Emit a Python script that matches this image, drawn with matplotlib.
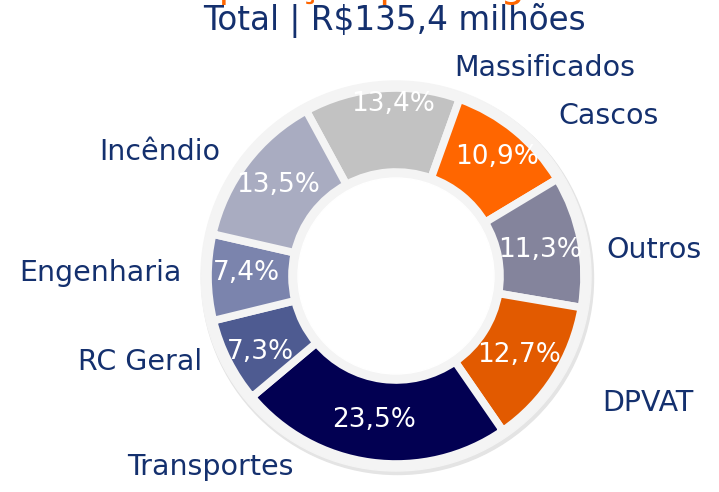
import matplotlib.pyplot as plt
from matplotlib.patches import Circle

# dados do gráfico (participação por ramo, %)
ramos = ["Massificados", "Cascos", "Outros", "DPVAT", "Transportes",
         "RC Geral", "Engenharia", "Incêndio"]
valores = [13.4, 10.9, 11.3, 12.7, 23.5, 7.3, 7.4, 13.5]
cores = ["#c2c2c2", "#ff6600", "#84849c", "#e25a00", "#020052",
         "#4e5b91", "#7b84ad", "#a9acc1"]
titulo = "Total | R$135,4 milhões"
titulo_topo = "Composição por segmento"

W, H = 719, 492
azul = "#14306e"

# posições dos textos (pixels na imagem)
pos_ramos = [(545, 68), (609, 116), (654, 250), (648, 403), (210, 467),
             (140, 362), (100, 273), (160, 152)]
pos_pct = [(393, 104), (497, 157), (540, 250), (519, 355), (374, 420),
           (260, 352), (246, 273), (278, 185)]

fig = plt.figure(figsize=(W / 100, H / 100), dpi=100)
ax = fig.add_axes([0, 0, 1, 1])

cx, cy = 396, H - 276

# sombra e aro cinza
ax.add_patch(Circle((cx + 1.5, cy - 2.5), 196, color="#e4e4e4", zorder=0))
ax.add_patch(Circle((cx, cy), 195, color="#f4f4f4", zorder=1))

wedges, txt_ramos, txt_pct = ax.pie(
    valores, labels=ramos, colors=cores, center=(cx, cy), radius=188,
    startangle=118.5, counterclock=False, autopct="%1.1f%%",
    wedgeprops=dict(width=84, edgecolor="#f4f4f4", linewidth=5.5),
    textprops=dict(color=azul, fontsize=20.5), frame=True)
for w in wedges:
    w.set_zorder(2)

ax.set_xlim(0, W)
ax.set_ylim(0, H)
ax.set_aspect("equal")
ax.axis("off")

# furo central
ax.add_patch(Circle((cx, cy), 98, color="white", zorder=3))

for t, (x, y) in zip(txt_ramos, pos_ramos):
    t.set_position((x, H - y))
    t.set_ha("center")
    t.set_va("center")

for t, v, (x, y) in zip(txt_pct, valores, pos_pct):
    t.set_text(f"{v:.1f}%".replace(".", ","))
    t.set_position((x, H - y))
    t.set_ha("center")
    t.set_va("center")
    t.set_color("white")
    t.set_fontsize(19)
    t.set_zorder(4)

ax.text(394, H - 21, titulo, ha="center", va="center", fontsize=23.5, color=azul)
# título laranja cortado no topo (só as pernas das letras aparecem)
ax.text(390, H + 3, titulo_topo, ha="center", va="baseline", fontsize=28,
        color="#ff6600", clip_on=False)

fig.savefig("out.png", dpi=100)
